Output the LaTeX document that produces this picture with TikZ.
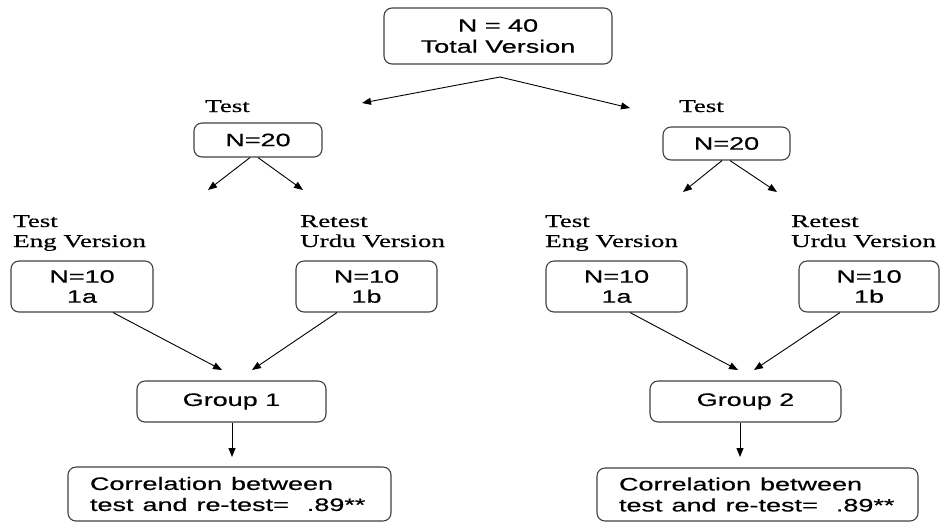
\documentclass[tikz,border=0pt]{standalone}
\usepackage{fontspec}
\setmainfont{Liberation Serif}[FakeBold=0.4]
\setsansfont{Liberation Sans}[FakeBold=0.4]
\usepackage{graphicx}
\usetikzlibrary{arrows.meta}
\newcommand\wsans[1]{\scalebox{1.5}[1]{#1}}
\newcommand\wser[1]{\scalebox{1.5}[1]{#1}}
\begin{document}
\begin{tikzpicture}[x=1pt,y=-1pt,
  box/.style={draw=black!75, line width=1.1pt, rounded corners=8pt,
    font=\sffamily\fontsize{18}{20}\selectfont, align=center, inner sep=0pt},
  lbl/.style={font=\rmfamily\fontsize{18}{20}\selectfont, align=left, inner sep=0pt, anchor=base west},
  arr/.style={-{Triangle[length=9pt,width=7pt]}, line width=0.9pt}]
\useasboundingbox (0,0) rectangle (941,523);

% top
\node[box, minimum width=228pt, minimum height=56pt, font=\sffamily\fontsize{18}{21}\selectfont] (top) at (498,36) {\wsans{N = 40}\\\wsans{Total Version}};

% second level
\node[box, minimum width=128pt, minimum height=34pt] (l20) at (258,140) {\wsans{N=20}};
\node[box, minimum width=127pt, minimum height=33pt] (r20) at (726.5,143.5) {\wsans{N=20}};
\node[lbl] (ltest) at (205,112) {\wser{Test}};
\node[lbl] (rtest) at (679,112) {\wser{Test}};

% labels
\node[lbl] (lalbl) at (13,247) {\wser{Test}\\\wser{Eng Version}};
\node[lbl] (lblbl) at (300,247) {\wser{Retest}\\\wser{Urdu Version}};
\node[lbl] (ralbl) at (545,247) {\wser{Test}\\\wser{Eng Version}};
\node[lbl] (rblbl) at (791,247) {\wser{Retest}\\\wser{Urdu Version}};

% third level
\node[box, minimum width=142pt, minimum height=51pt] (l1a) at (82,286.5) {\wsans{N=10}\\\wsans{1a}};
\node[box, minimum width=141pt, minimum height=51pt] (l1b) at (366.5,286.5) {\wsans{N=10}\\\wsans{1b}};
\node[box, minimum width=141pt, minimum height=51pt] (r1a) at (616.5,286.5) {\wsans{N=10}\\\wsans{1a}};
\node[box, minimum width=140pt, minimum height=51pt] (r1b) at (869,286.5) {\wsans{N=10}\\\wsans{1b}};

% groups
\node[box, minimum width=189pt, minimum height=41pt] (g1) at (231.5,401.5) {\wsans{Group 1}};
\node[box, minimum width=191pt, minimum height=41pt] (g2) at (745.5,401.5) {\wsans{Group 2}};

% correlations
\node[box, minimum height=54pt, text width=279pt, align=left, inner xsep=22pt, font=\sffamily\fontsize{18}{21}\selectfont] (c1) at (229.5,494) {\wsans{Correlation between}\\\wsans{test and re-test=~~.89**}};
\node[box, minimum height=53pt, text width=277pt, align=left, inner xsep=22pt, font=\sffamily\fontsize{18}{21}\selectfont] (c2) at (757.5,494.5) {\wsans{Correlation between}\\\wsans{test and re-test=~~.89**}};

% connector end points
\coordinate (apex) at (500,77);
\coordinate (tl) at (362,103);
\coordinate (tr) at (630,108);
\coordinate (l20l) at (208,190);
\coordinate (l20r) at (303,190);
\coordinate (r20l) at (683,192);
\coordinate (r20r) at (777,192);
\coordinate (g1a) at (222,370);
\coordinate (g1b) at (252,370);
\coordinate (g2a) at (738,370);
\coordinate (g2b) at (754,370);
\coordinate (g1o) at (232,457);
\coordinate (g2o) at (740,457);

\draw[arr] (apex) -- (tl);
\draw[arr] (apex) -- (tr);
\draw[arr] ([xshift=-8pt]l20.south) -- (l20l);
\draw[arr] (l20.south) -- (l20r);
\draw[arr] ([xshift=-4.5pt]r20.south) -- (r20l);
\draw[arr] ([xshift=3.5pt]r20.south) -- (r20r);
\draw[arr] ([xshift=31pt]l1a.south) -- (g1a);
\draw[arr] ([xshift=-29.5pt]l1b.south) -- (g1b);
\draw[arr] ([xshift=13.5pt]r1a.south) -- (g2a);
\draw[arr] ([xshift=-29pt]r1b.south) -- (g2b);
\draw[arr] ([xshift=0.5pt]g1.south) -- (g1o);
\draw[arr] ([xshift=-5.5pt]g2.south) -- (g2o);
\end{tikzpicture}
\end{document}
